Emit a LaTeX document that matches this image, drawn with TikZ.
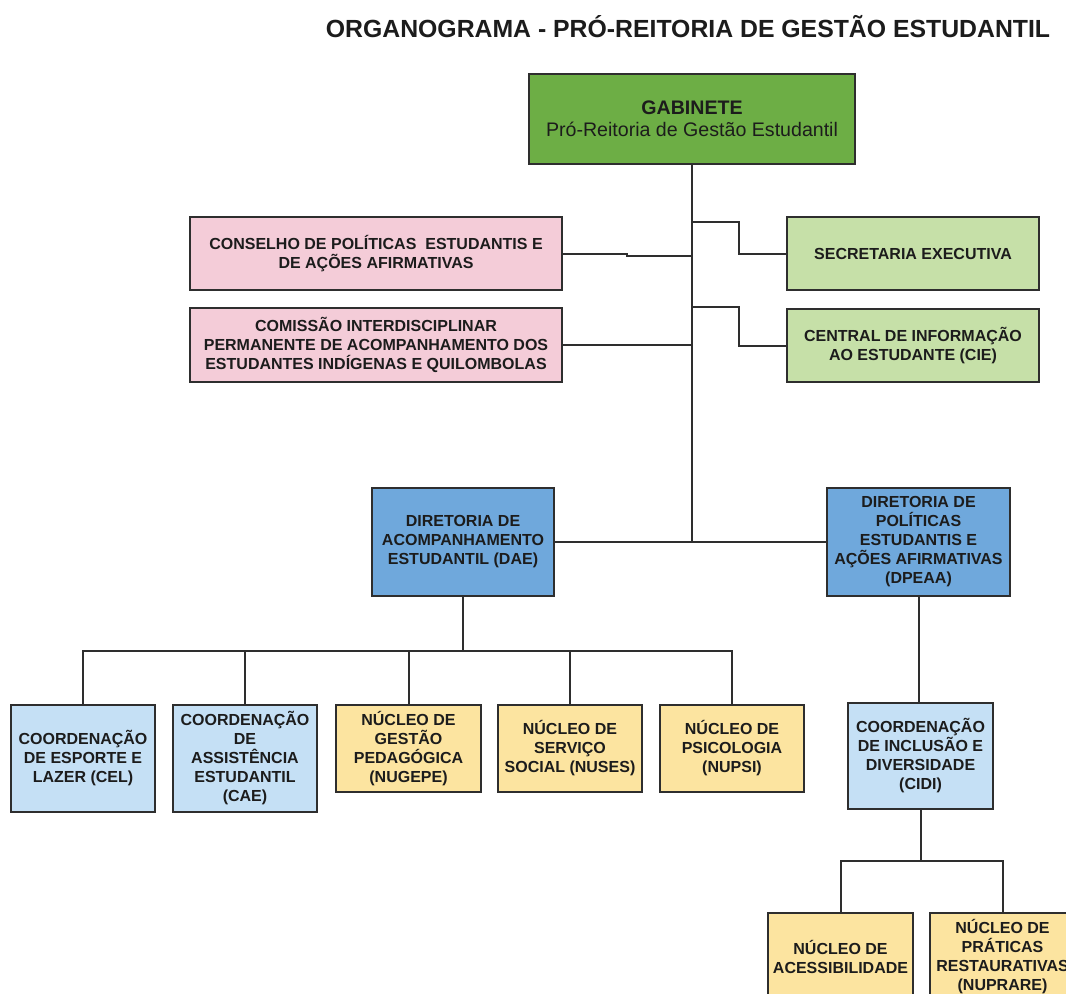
\documentclass[tikz,border=0pt]{standalone}
\usepackage{fontspec}
\setmainfont{Liberation Sans}
\definecolor{gabc}{HTML}{6DAE45}
\definecolor{pinkc}{HTML}{F4CCD8}
\definecolor{lgreenc}{HTML}{C6E0A8}
\definecolor{bluec}{HTML}{6FA8DC}
\definecolor{lbluec}{HTML}{C5E0F5}
\definecolor{yelc}{HTML}{FCE4A0}
\definecolor{linec}{HTML}{2E2E2E}
\definecolor{textc}{HTML}{1C1C1C}
\tikzset{
  orgbox/.style={draw=linec, line width=1.5pt, rectangle, inner sep=0pt, outer sep=0pt,
    align=center, text=textc, font=\bfseries\fontsize{12}{14.25}\selectfont},
  conn/.style={draw=linec, line width=1.5pt},
}
\begin{document}
\begin{tikzpicture}[x=0.75pt,y=-0.75pt]
\useasboundingbox (0,0) rectangle (1066,993);
\clip (0,0) rectangle (1066,993);
\fill[white] (0,0) rectangle (1066,993);

\node[anchor=base, text=textc, font=\bfseries\fontsize{18.6}{21}\selectfont] (title) at (688,37)
  {ORGANOGRAMA - PRÓ-REITORIA DE GESTÃO ESTUDANTIL};

\node[orgbox, fill=gabc, minimum width=244.5pt, minimum height=67.5pt,
  font=\fontsize{14.7}{16.5}\selectfont, text=textc] (gab) at (692,119)
  {\textbf{GABINETE}\\Pró-Reitoria de Gestão Estudantil};

\node[orgbox, fill=pinkc, minimum width=279pt, minimum height=54.75pt] (cons) at (376,253.5)
  {CONSELHO DE POLÍTICAS\ \ ESTUDANTIS E\\DE AÇÕES AFIRMATIVAS};
\node[orgbox, fill=pinkc, minimum width=279pt, minimum height=55.5pt] (com) at (376,345)
  {COMISSÃO INTERDISCIPLINAR\\PERMANENTE DE ACOMPANHAMENTO DOS\\ESTUDANTES INDÍGENAS E QUILOMBOLAS};

\node[orgbox, fill=lgreenc, minimum width=189pt, minimum height=54.75pt] (sec) at (913,253.5)
  {SECRETARIA EXECUTIVA};
\node[orgbox, fill=lgreenc, minimum width=189pt, minimum height=54.75pt] (cie) at (913,345.5)
  {CENTRAL DE INFORMAÇÃO\\AO ESTUDANTE (CIE)};

\node[orgbox, fill=bluec, minimum width=136.5pt, minimum height=81pt] (dae) at (463,542)
  {DIRETORIA DE\\ACOMPANHAMENTO\\ESTUDANTIL (DAE)};
\node[orgbox, fill=bluec, minimum width=137.25pt, minimum height=81pt] (dpeaa) at (918.5,542)
  {DIRETORIA DE\\POLÍTICAS\\ESTUDANTIS E\\AÇÕES AFIRMATIVAS\\(DPEAA)};

\node[orgbox, fill=lbluec, minimum width=108pt, minimum height=80.25pt] (cel) at (83,758.5)
  {COORDENAÇÃO\\DE ESPORTE E\\LAZER (CEL)};
\node[orgbox, fill=lbluec, minimum width=108pt, minimum height=80.25pt] (cae) at (245,758.5)
  {COORDENAÇÃO\\DE\\ASSISTÊNCIA\\ESTUDANTIL\\(CAE)};
\node[orgbox, fill=yelc, minimum width=108.75pt, minimum height=65.25pt] (nugepe) at (408.5,748.5)
  {NÚCLEO DE\\GESTÃO\\PEDAGÓGICA\\(NUGEPE)};
\node[orgbox, fill=yelc, minimum width=108pt, minimum height=65.25pt] (nuses) at (570,748.5)
  {NÚCLEO DE\\SERVIÇO\\SOCIAL (NUSES)};
\node[orgbox, fill=yelc, minimum width=108pt, minimum height=65.25pt] (nupsi) at (732,748.5)
  {NÚCLEO DE\\PSICOLOGIA\\(NUPSI)};

\node[orgbox, fill=lbluec, minimum width=108.75pt, minimum height=79.5pt] (cidi) at (920.5,756)
  {COORDENAÇÃO\\DE INCLUSÃO E\\DIVERSIDADE\\(CIDI)};
\node[orgbox, fill=yelc, minimum width=108.75pt, minimum height=65.25pt] (acess) at (840.5,956.5)
  {NÚCLEO DE\\ACESSIBILIDADE};
\node[orgbox, fill=yelc, minimum width=108.75pt, minimum height=65.25pt] (nuprare) at (1002.5,956.5)
  {NÚCLEO DE\\PRÁTICAS\\RESTAURATIVAS\\(NUPRARE)};

% junctions
\coordinate (jsec) at (692,222);
\coordinate (jcons) at (692,255.5);
\coordinate (jcie) at (692,307);
\coordinate (jcom) at (692,345);
\coordinate (jdir) at (692,542);
\coordinate (bar) at (463,651);
\coordinate (bar2) at (920.5,861);

\draw[conn] (gab.south) -- (jdir);
\draw[conn] (cons.east) -- ++(65,0) |- (jcons);
\draw[conn] (com.east) -- (jcom);
\draw[conn] (jsec) -- ++(47,0) |- (sec.west);
\draw[conn] (jcie) -- ++(47,0) |- (cie.west);
\draw[conn] (dae.east) -- (dpeaa.west);

\draw[conn] (dae.south) -- (bar);
\draw[conn] (cel.north) |- (bar);
\draw[conn] (cae.north) |- (bar);
\draw[conn] (nugepe.north) |- (bar);
\draw[conn] (nuses.north) |- (bar);
\draw[conn] (nupsi.north) |- (bar);

\draw[conn] (dpeaa.south) -- (dpeaa.south |- cidi.north);
\draw[conn] (cidi.south) -- (bar2);
\draw[conn] (acess.north) |- (bar2);
\draw[conn] (nuprare.north) |- (bar2);
\end{tikzpicture}
\end{document}
